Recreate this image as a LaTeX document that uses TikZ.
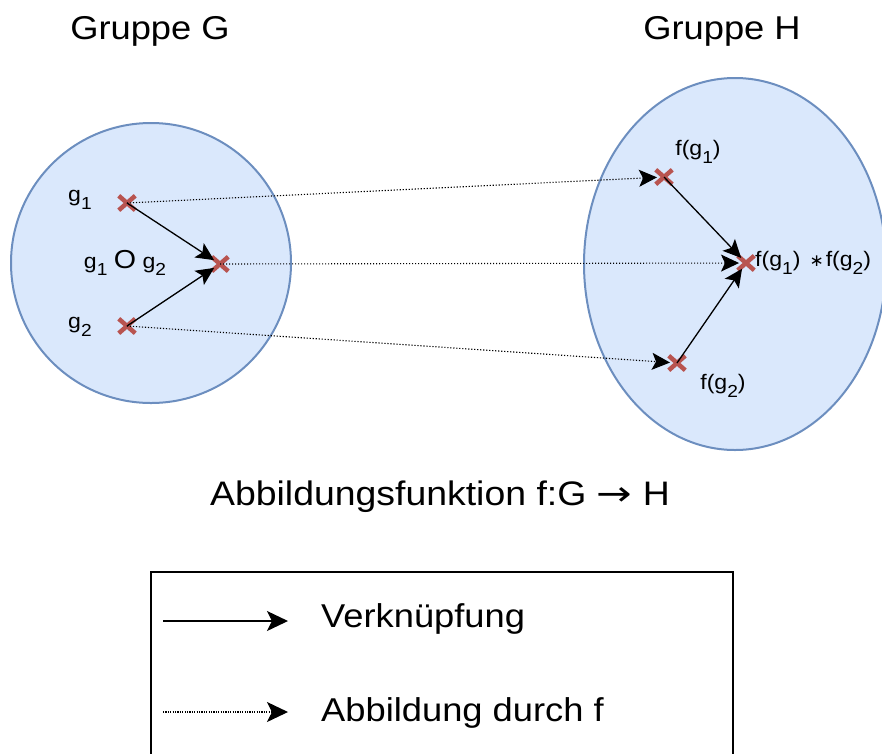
\documentclass[tikz,border=0pt]{standalone}
\usepackage{fontspec}
\setmainfont{Liberation Sans}[FakeStretch=1.1]
\newfontfamily\arrowfont{DejaVu Sans}[FakeStretch=1.25]
\newfontfamily\starfont{DejaVu Sans}
\usepackage{graphicx}
\usetikzlibrary{arrows.meta,shapes.misc,shapes.geometric}
\definecolor{fillblue}{HTML}{DAE8FC}
\definecolor{strokeblue}{HTML}{6C8EBF}
\definecolor{xred}{HTML}{B85450}
\newcommand\lowidx[1]{\raisebox{-0.35em}{\scalebox{0.83}{#1}}}
\begin{document}
\begin{tikzpicture}[x=1pt,y=-1pt,
  title/.style={font=\fontsize{33}{40}\selectfont, anchor=base, inner sep=0},
  lbl/.style={font=\fontsize{21}{25}\selectfont, inner sep=0},
  xmark/.style={cross out, draw=xred, line width=4.5pt, minimum width=12pt, minimum height=10pt, inner sep=0},
  group/.style={draw=strokeblue, fill=fillblue, line width=2pt},
  optip/.style={-{Stealth[length=18pt,width=17pt,inset=4pt]}},
  legtip/.style={-{Stealth[length=21pt,width=20pt,inset=5pt]}},
  op/.style={optip, line width=1.3pt, shorten >=7pt},
  mapto/.style={optip, line width=1.1pt, dash pattern=on 1.2pt off 1.8pt, shorten >=7pt},
  legtext/.style={font=\fontsize{33}{40}\selectfont, anchor=base west, inner sep=0}]
\useasboundingbox (0,0) rectangle (882,753);
% groups
\node[group, circle, minimum size=280pt, inner sep=0] (G) at (151,263) {};
\node[group, ellipse, minimum width=302pt, minimum height=372pt, inner sep=0] (H) at (735,264) {};
\node[title] (tG) at (150,39) {Gruppe G};
\node[title] (tH) at (722,39) {Gruppe H};
% elements of G
\node[xmark] (g1) at (127,203) {};
\node[xmark] (g12) at (220,264) {};
\node[xmark] (g2) at (127,326) {};
\node[lbl] (lg1) at (80,200) {g\lowidx{1}};
\node[lbl] (lg2) at (80,327) {g\lowidx{2}};
\node[lbl] (lg12) at (125,263) {g\lowidx{1} {\fontsize{26}{28}\selectfont O} g\lowidx{2}};
% elements of H
\node[xmark] (f1) at (664,177) {};
\node[xmark] (f12) at (746,263) {};
\node[xmark] (f2) at (677,363) {};
\node[lbl] (lf1) at (698,152) {f(g\lowidx{1})};
\node[lbl, anchor=west] (lf12) at (755,263) {f(g\lowidx{1})\hspace{9pt}{\starfont\fontsize{17}{20}\selectfont ∗}\hspace{2pt}f(g\lowidx{2})};
\node[lbl] (lf2) at (723,386) {f(g\lowidx{2})};
% operations
\draw[op] (g1.center) -- (g12.center);
\draw[op] (g2.center) -- (g12.center);
\draw[op] (f1.center) -- (f12.center);
\draw[op] (f2.center) -- (f12.center);
% mapping
\draw[mapto] (g1.center) -- (f1.center);
\draw[mapto] (g12.center) -- (f12.center);
\draw[mapto] (g2.center) -- (f2.center);
% caption
\node[font=\fontsize{34}{40}\selectfont, anchor=base, inner sep=0] (cap) at (440,505) {Abbildungsfunktion f:G {\arrowfont →} H};
% legend
\draw[line width=2.5pt] (151,572) rectangle (733,800);
\coordinate (l1a) at (163,621);
\coordinate (l1b) at (288,621);
\coordinate (l2a) at (163,712);
\coordinate (l2b) at (288,712);
\draw[legtip, line width=1.3pt] (l1a) -- (l1b);
\draw[legtip, line width=1.1pt, dash pattern=on 1.2pt off 1.2pt] (l2a) -- (l2b);
\node[legtext] (v) at (321,627) {Verknüpfung};
\node[legtext] (a) at (321,721) {Abbildung durch f};
\end{tikzpicture}
\end{document}
